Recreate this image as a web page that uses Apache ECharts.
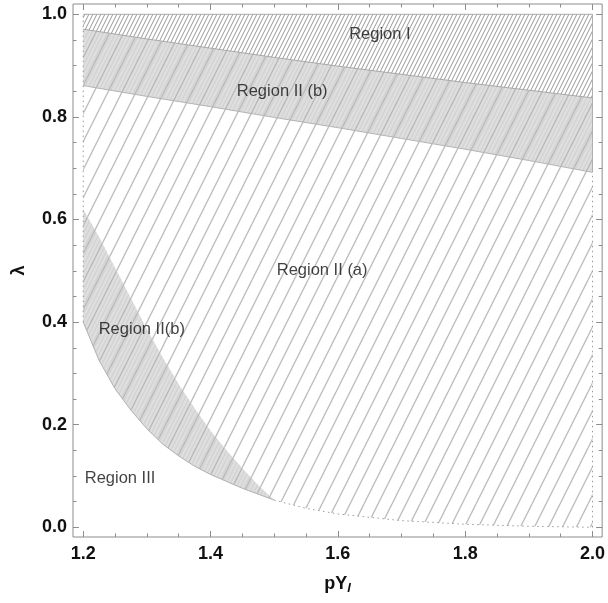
<!DOCTYPE html>
<html>
<head>
<meta charset="utf-8">
<script src="https://cdn.jsdelivr.net/npm/echarts@6/dist/echarts.min.js"></script>
<style>
	html, body { margin: 0; padding: 0; background: #fff; }
	#chart { width: 608px; height: 603px; }
</style>
</head>
<body>
<div id="chart"></div>
<script>
// boundaries of the upper bands, sampled along pY_l
var bandX = [1.2, 1.3, 1.4, 1.5, 1.6, 1.7, 1.8, 1.9, 2.0];
var lineI_IIb = [0.971, 0.952, 0.934, 0.916, 0.899, 0.883, 0.867, 0.852, 0.837];
var lineIIb_IIa = [0.861, 0.840, 0.820, 0.799, 0.779, 0.758, 0.737, 0.715, 0.692];

// left band (Region II(b)) upper edge
var upperX = [1.2, 1.225, 1.25, 1.275, 1.3, 1.325, 1.35, 1.375, 1.4, 1.425, 1.45, 1.475, 1.5];
var upperCurve = [0.620, 0.566, 0.506, 0.446, 0.386, 0.331, 0.279, 0.232, 0.188, 0.150, 0.115, 0.082, 0.053];

// lower curve (edge of Region III)
var lowerX = [1.2, 1.225, 1.25, 1.275, 1.3, 1.325, 1.35, 1.375, 1.4, 1.45, 1.5, 1.55, 1.6, 1.7, 1.8, 1.9, 2.0];
var lowerCurve = [0.400, 0.325, 0.270, 0.228, 0.192, 0.162, 0.139, 0.119, 0.103, 0.076, 0.053, 0.037, 0.026, 0.013, 0.006, 0.002, 0.0];

var lambdaTop = 1.0;
var xStart = 1.2, xEnd = 2.0;

var xTicksMajor = [1.2, 1.4, 1.6, 1.8, 2.0];
var xTicksMinor = [1.2, 1.25, 1.3, 1.35, 1.4, 1.45, 1.5, 1.55, 1.6, 1.65, 1.7, 1.75, 1.8, 1.85, 1.9, 1.95, 2.0];
var yTicksMajor = [0, 0.2, 0.4, 0.6, 0.8, 1.0];
var yTicksMinor = [0, 0.05, 0.1, 0.15, 0.2, 0.25, 0.3, 0.35, 0.4, 0.45, 0.5, 0.55, 0.6, 0.65, 0.7, 0.75, 0.8, 0.85, 0.9, 0.95, 1.0];

var regionNames = ['Region I', 'Region II (b)', 'Region II (a)', 'Region II(b)', 'Region III'];
var regionLabelAt = [[1.666, 0.960], [1.5125, 0.8505], [1.5753, 0.5015], [1.292, 0.386], [1.2578, 0.0948]];

var FONT = '"Liberation Sans", Arial, sans-serif';
var X_MIN = 1.1839, X_MAX = 2.0152, Y_MIN = -0.0189, Y_MAX = 1.0201;

function pairs(xs, ys) {
	var out = [];
	for (var i = 0; i < xs.length; i++) out.push([xs[i], ys[i]]);
	return out;
}

// diagonal hatch tile, lines with slope 2 going up to the right
function hatch(bg, layers) {
	var W = 28, H = 56;
	var c = document.createElement('canvas');
	c.width = W; c.height = H;
	var g = c.getContext('2d');
	g.fillStyle = bg;
	g.fillRect(0, 0, W, H);
	layers.forEach(function (l) {
		g.strokeStyle = l.color;
		g.lineWidth = l.width;
		for (var x0 = -W; x0 <= W; x0 += l.step) {
			g.beginPath();
			g.moveTo(x0, H);
			g.lineTo(x0 + W, 0);
			g.stroke();
		}
	});
	return { image: c, repeat: 'repeat' };
}

var wideHatch = hatch('#ffffff', [{ step: 14, color: '#bdbdbd', width: 1.4 }]);
var fineHatch = hatch('#ffffff', [{ step: 4, color: '#999999', width: 1 }]);
var bandHatch = hatch('#dedede', [{ step: 4, color: '#cdcdcd', width: 0.9 }, { step: 14, color: '#b9b9b9', width: 1.4 }]);

// polygons of each region
var topBandPts = pairs(bandX, lineI_IIb).concat(pairs(bandX, lineIIb_IIa).reverse());
var regionIPts = [[xStart, lambdaTop], [xEnd, lambdaTop]].concat(pairs(bandX, lineI_IIb).reverse());
var leftBandPts = pairs(upperX, upperCurve).concat(pairs(lowerX, lowerCurve).filter(function (p) { return p[0] <= 1.5; }).reverse());
var regionIIaPts = pairs(bandX, lineIIb_IIa)
	.concat(pairs(lowerX, lowerCurve).filter(function (p) { return p[0] >= 1.5; }).reverse())
	.concat(pairs(upperX, upperCurve).reverse());

function polySeries(pts, fill) {
	return {
		type: 'custom',
		silent: true,
		data: [pts[0]],
		renderItem: function (params, api) {
			return {
				type: 'polygon',
				shape: { points: pts.map(function (p) { return api.coord(p); }) },
				style: { fill: fill, stroke: null }
			};
		}
	};
}

function lineSeries(data, color, type) {
	return {
		type: 'line',
		silent: true,
		data: data,
		showSymbol: false,
		symbol: 'none',
		lineStyle: { color: color, width: 1, type: type || 'solid' },
		z: 3
	};
}

function xAx(pos, ticks, len, labels) {
	return {
		type: 'value', position: pos, min: X_MIN, max: X_MAX,
		axisLine: { show: false, onZero: false },
		splitLine: { show: false },
		axisTick: { show: true, inside: true, length: len, customValues: ticks, lineStyle: { color: '#8c8c8c' } },
		axisLabel: labels ? {
			show: true, customValues: xTicksMajor, margin: 8,
			formatter: function (v) { return v.toFixed(1); },
			fontFamily: FONT, fontSize: 18, fontWeight: 'bold', color: '#111'
		} : { show: false }
	};
}
function yAx(pos, ticks, len, labels) {
	return {
		type: 'value', position: pos, min: Y_MIN, max: Y_MAX,
		axisLine: { show: false, onZero: false },
		splitLine: { show: false },
		axisTick: { show: true, inside: true, length: len, customValues: ticks, lineStyle: { color: '#8c8c8c' } },
		axisLabel: labels ? {
			show: true, customValues: yTicksMajor, margin: 6,
			formatter: function (v) { return v.toFixed(1); },
			fontFamily: FONT, fontSize: 18, fontWeight: 'bold', color: '#111'
		} : { show: false }
	};
}

var xAxes = [xAx('bottom', xTicksMajor, 6, true), xAx('bottom', xTicksMinor, 3.5, false), xAx('top', xTicksMajor, 6, false), xAx('top', xTicksMinor, 3.5, false)];
xAxes[0].name = '{a|pY}{b|l}';
xAxes[0].nameLocation = 'middle';
xAxes[0].nameGap = 36;
xAxes[0].nameTextStyle = {
	rich: {
		a: { fontFamily: FONT, fontSize: 18, fontWeight: 'bold', color: '#111', lineHeight: 22 },
		b: { fontFamily: FONT, fontSize: 13, fontWeight: 'bold', fontStyle: 'italic', color: '#111', lineHeight: 13, verticalAlign: 'bottom' }
	}
};
var yAxes = [yAx('left', yTicksMajor, 6, true), yAx('left', yTicksMinor, 3.5, false), yAx('right', yTicksMajor, 6, false), yAx('right', yTicksMinor, 3.5, false)];
yAxes[0].name = 'λ';
yAxes[0].nameLocation = 'middle';
yAxes[0].nameGap = 45;
yAxes[0].nameTextStyle = { fontFamily: FONT, fontSize: 18, fontWeight: 'bold', color: '#111' };

var chart = echarts.init(document.getElementById('chart'));
chart.setOption({
	animation: false,
	grid: { left: 73, top: 4, width: 532, height: 533, show: true, borderColor: '#8c8c8c', borderWidth: 1, backgroundColor: 'transparent' },
	xAxis: xAxes,
	yAxis: yAxes,
	series: [
		polySeries(regionIIaPts, wideHatch),
		polySeries(topBandPts, bandHatch),
		polySeries(regionIPts, fineHatch),
		polySeries(leftBandPts, bandHatch),
		lineSeries([[xStart, lambdaTop], [xEnd, lambdaTop]], '#a8a8a8'),
		lineSeries(pairs(bandX, lineI_IIb), '#a8a8a8'),
		lineSeries(pairs(bandX, lineIIb_IIa), '#b4b4b4'),
		lineSeries(pairs(lowerX, lowerCurve).filter(function (p) { return p[0] <= 1.5; }), '#b0b0b0'),
		lineSeries(pairs(lowerX, lowerCurve).filter(function (p) { return p[0] >= 1.5; }), '#9a9a9a', [1.5, 3.5]),
		lineSeries([[xStart, lowerCurve[0]], [xStart, lambdaTop]], '#9a9a9a', [1.5, 3.5]),
		lineSeries([[xEnd, lowerCurve[lowerCurve.length - 1]], [xEnd, lineIIb_IIa[lineIIb_IIa.length - 1]]], '#9a9a9a', [1.5, 3.5]),
		lineSeries([[xEnd, lineIIb_IIa[lineIIb_IIa.length - 1]], [xEnd, lambdaTop]], '#b0b0b0'),
		{
			type: 'scatter',
			silent: true,
			symbolSize: 0,
			z: 5,
			data: regionNames.map(function (n, i) { return { name: n, value: regionLabelAt[i] }; }),
			label: {
				show: true, position: 'inside', formatter: '{b}',
				fontFamily: FONT, fontSize: 16.5, color: '#111'
			}
		}
	]
});
</script>
</body>
</html>
